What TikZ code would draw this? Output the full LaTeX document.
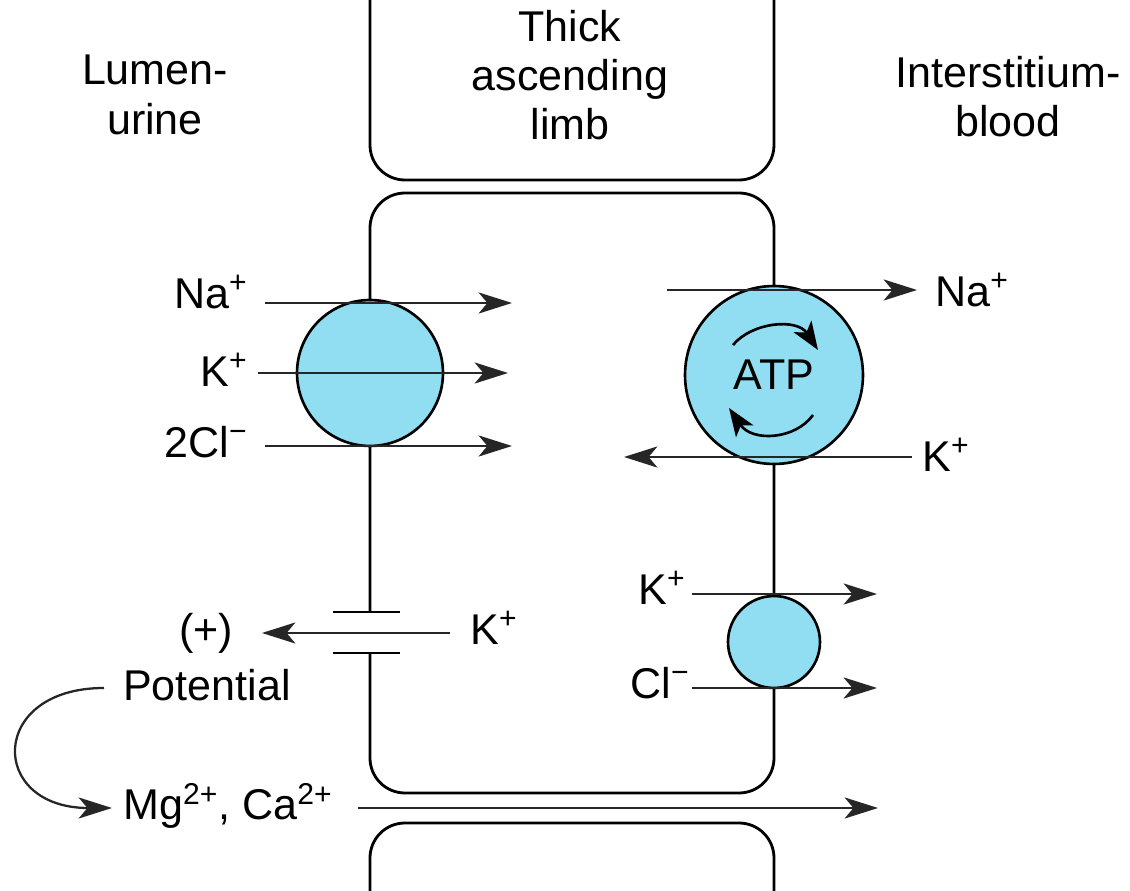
\documentclass[tikz,border=0pt]{standalone}
\usepackage{fontspec}
\setmainfont{Liberation Sans}
\usetikzlibrary{arrows.meta,positioning}
\definecolor{poreblue}{RGB}{145,222,242}

\begin{document}
\begin{tikzpicture}[
    x=0.02cm, y=-0.02cm,
    membrane/.style={draw=black, line width=1.6pt, rounded corners=0.7cm},
    carrier/.style={circle, draw=black, line width=1.5pt, fill=poreblue, inner sep=0pt},
    flux/.style={black!85, line width=1.3pt, -{Stealth[length=19pt,width=12pt,inset=5pt]}},
    spin/.style={black, line width=1.5pt, -{Stealth[length=16pt,width=12pt,inset=4pt]}},
    ion/.style={inner sep=0pt},
    every node/.style={font=\fontsize{24.5}{28}\selectfont}
]
\useasboundingbox (0,0) rectangle (1130,891);

% Headings
\node[align=center] (lumen) at (155,95) {Lumen-\\urine};
\node[align=center] (limb) at (570,75) {Thick\\ascending\\limb};
\node[align=center] (blood) at (1008,97) {Interstitium-\\blood};

% Cells
\draw[membrane] (370,-30) -- (370,180) -- (774,180) -- (774,-30);
\draw[membrane] (370,612) -- (370,193) -- (774,193) -- (774,793) -- (370,793) -- (370,653);
\draw[membrane] (370,920) -- (370,823) -- (774,823) -- (774,920);

% K channel
\draw[line width=1.6pt] (333,612) -- (400,612);
\draw[line width=1.6pt] (333,653) -- (400,653);

% Carriers
\node[carrier, minimum size=2.92cm] (nkcc) at (370,373) {};
\node[carrier, minimum size=3.56cm] (pump) at (774,375) {ATP};
\node[carrier, minimum size=1.84cm] (kcc) at (774,642) {};

% Ion labels
\node[ion, anchor=east] (naL) at (248,292) {Na\textsuperscript{+}};
\node[ion, anchor=east] (kL) at (248,370) {K\textsuperscript{+}};
\node[ion, anchor=east] (clL) at (248,442) {2Cl\textsuperscript{−}};
\node[ion, anchor=west] (naR) at (935,290) {Na\textsuperscript{+}};
\node[ion, anchor=west] (kR) at (922,455) {K\textsuperscript{+}};
\node[ion, anchor=east] (kS) at (686,588) {K\textsuperscript{+}};
\node[ion, anchor=east] (clS) at (690,683) {Cl\textsuperscript{−}};
\node[ion, anchor=west] (kCh) at (470,628) {K\textsuperscript{+}};
\node[ion] (plus) at (206,633) {(+)};
\node[ion] (pot) at (207,685) {Potential};
\node[ion, anchor=west] (mg) at (123,806) {Mg\textsuperscript{2+}, Ca\textsuperscript{2+}};

% Arrow ends
\coordinate (naA) at (265,303);  \coordinate (naB) at (512,303);
\coordinate (kA) at (258,373);   \coordinate (kB) at (508,373);
\coordinate (clA) at (265,446);  \coordinate (clB) at (512,446);
\coordinate (naC) at (667,290);  \coordinate (naD) at (917,290);
\coordinate (kC) at (912,457);   \coordinate (kD) at (624,457);
\coordinate (kE) at (692,594);   \coordinate (kF) at (877,594);
\coordinate (clE) at (692,688);  \coordinate (clF) at (877,688);
\coordinate (chA) at (450,633);  \coordinate (chB) at (262,633);
\coordinate (mgA) at (358,808);  \coordinate (mgB) at (878,808);
\coordinate (potA) at (104,688); \coordinate (potB) at (112,808);

% Fluxes
\draw[flux] (naA) -- (naB);
\draw[flux] (kA) -- (kB);
\draw[flux] (clA) -- (clB);
\draw[flux] (naC) -- (naD);
\draw[flux] (kC) -- (kD);
\draw[flux] (kE) -- (kF);
\draw[flux] (clE) -- (clF);
\draw[flux] (chA) -- (chB);
\draw[flux] (mgA) -- (mgB);
\draw[flux] (potA) .. controls (-12,688) and (-12,808) .. (potB);

% Pump cycle
\draw[spin] (733,345) .. controls (752,322) and (797,318) .. (818,350);
\draw[spin] (813,415) .. controls (795,440) and (752,442) .. (729,408);

\end{tikzpicture}
\end{document}
